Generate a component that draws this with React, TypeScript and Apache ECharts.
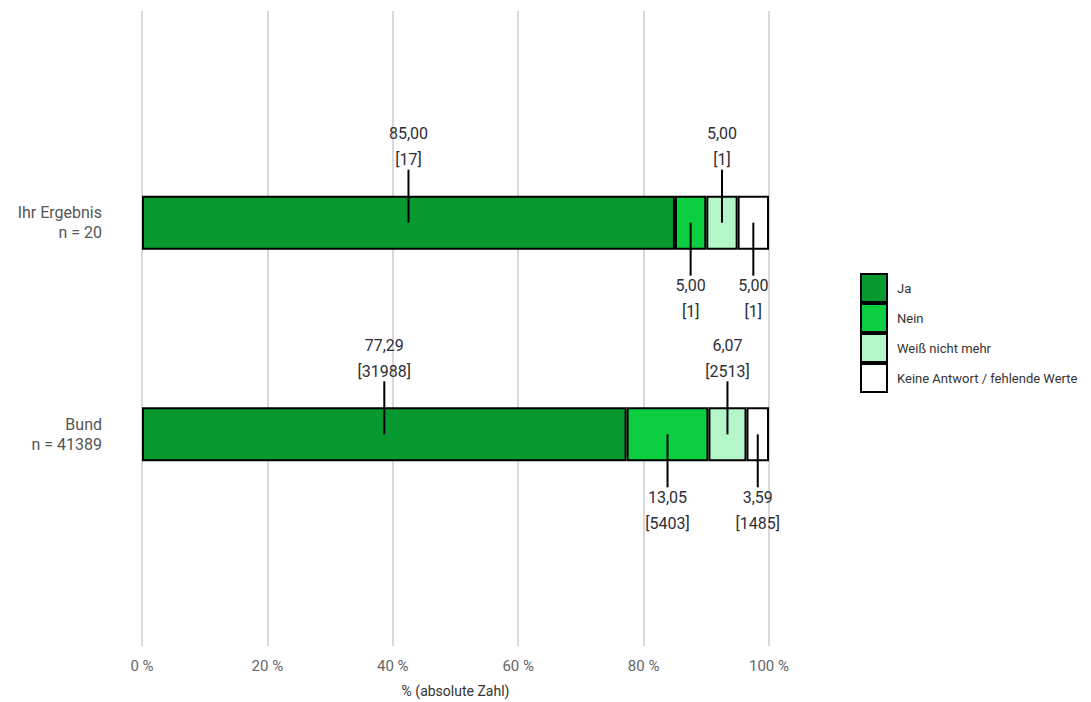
import { useEffect, useRef } from "react";
import * as echarts from "echarts";

// Rows shown on the category axis (top to bottom)
const categories = ["Ihr Ergebnis\nn = 20", "Bund\nn = 41389"];

// Answer options, in stacking order
const seriesNames = ["Ja", "Nein", "Weiß nicht mehr", "Keine Antwort / fehlende Werte"];
const seriesColors = ["#07992f", "#0bcf40", "#b4f6c8", "#ffffff"];

// Percentages per row
const jaPct = [85.0, 77.29];
const neinPct = [5.0, 13.05];
const weissPct = [5.0, 6.07];
const keinePct = [5.0, 3.59];

// Absolute counts per row
const jaCount = [17, 31988];
const neinCount = [1, 5403];
const weissCount = [1, 2513];
const keineCount = [1, 1485];

const xTicks = [0, 20, 40, 60, 80, 100];

const pctBySeries = [jaPct, neinPct, weissPct, keinePct];
const countBySeries = [jaCount, neinCount, weissCount, keineCount];

const fmt = (v: number) => v.toFixed(2).replace(".", ",");

export default function App() {
  const ref = useRef<HTMLDivElement>(null);

  useEffect(() => {
    document.body.style.margin = "0";
    const chart = echarts.init(ref.current!, null, { renderer: "svg" });

    // pad the category axis with an empty slot on each side
    const axisCats = ["", ...categories, ""];

    const barSeries = seriesNames.map((name, s) => ({
      name,
      type: "bar",
      stack: "total",
      barWidth: 54,
      itemStyle: { color: seriesColors[s], borderColor: "#000", borderWidth: 2 },
      emphasis: { disabled: true },
      data: ["-", ...pctBySeries[s], "-"],
    }));

    // label records: [start, end, row index on axis, series index, row]
    const labelData: number[][] = [];
    categories.forEach((_, r) => {
      let acc = 0;
      pctBySeries.forEach((arr, s) => {
        labelData.push([acc, acc + arr[r], r + 1, s, r]);
        acc += arr[r];
      });
    });

    const labelSeries = {
      type: "custom",
      z: 10,
      silent: true,
      clip: false,
      encode: { x: [0, 1], y: 2 },
      data: labelData,
      renderItem: (params: any, api: any) => {
        const start = api.value(0);
        const end = api.value(1);
        const cat = api.value(2);
        const s = api.value(3);
        const r = api.value(4);
        const c = api.coord([(start + end) / 2, cat]);
        const up = s % 2 === 0;
        const dir = up ? -1 : 1;
        const textStyle = {
          fill: "#2e2e38",
          fontSize: 16,
          fontFamily: "Roboto",
          align: "center",
          verticalAlign: "middle",
        };
        const first = fmt(pctBySeries[s][r]);
        const second = "[" + countBySeries[s][r] + "]";
        return {
          type: "group",
          children: [
            {
              type: "line",
              shape: { x1: c[0], y1: c[1], x2: c[0], y2: c[1] + dir * 53 },
              style: { stroke: "#000", lineWidth: 2 },
            },
            {
              type: "text",
              x: c[0],
              y: c[1] + dir * (up ? 89 : 63),
              style: { ...textStyle, text: first },
            },
            {
              type: "text",
              x: c[0],
              y: c[1] + dir * (up ? 63 : 89),
              style: { ...textStyle, text: second },
            },
          ],
        };
      },
    };

    chart.setOption({
      animation: false,
      textStyle: { fontFamily: "Roboto" },
      grid: { left: 142, right: 322, top: 11, bottom: 56, outerBoundsMode: "none" },
      legend: {
        data: seriesNames,
        orient: "vertical",
        left: 860,
        top: 273,
        padding: 0,
        itemWidth: 26,
        itemHeight: 28,
        itemGap: 0,
        icon: "rect",
        selectedMode: false,
        itemStyle: { borderColor: "#000", borderWidth: 2 },
        textStyle: { fontSize: 13, color: "#333", fontFamily: "Roboto", padding: [0, 0, 0, 5] },
      },
      xAxis: {
        type: "value",
        min: xTicks[0],
        max: xTicks[xTicks.length - 1],
        interval: xTicks[1] - xTicks[0],
        name: "% (absolute Zahl)",
        nameLocation: "middle",
        nameGap: 38,
        nameTextStyle: { fontSize: 14, color: "#333" },
        axisLine: { show: false },
        axisTick: { show: false },
        axisLabel: { formatter: "{value} %", fontSize: 15, color: "#666", margin: 12 },
        splitLine: { show: true, lineStyle: { color: "#d9d9d9", width: 2 } },
      },
      yAxis: {
        type: "category",
        data: axisCats,
        inverse: true,
        boundaryGap: false,
        axisLine: { show: false },
        axisTick: { show: false },
        axisLabel: {
          interval: 0,
          fontSize: 16,
          color: "#555",
          margin: 40,
          align: "right",
          lineHeight: 20,
        },
        splitLine: { show: false },
      },
      series: [...barSeries, labelSeries],
    });

    return () => chart.dispose();
  }, []);

  return <div ref={ref} style={{ width: 1091, height: 702 }} />;
}
